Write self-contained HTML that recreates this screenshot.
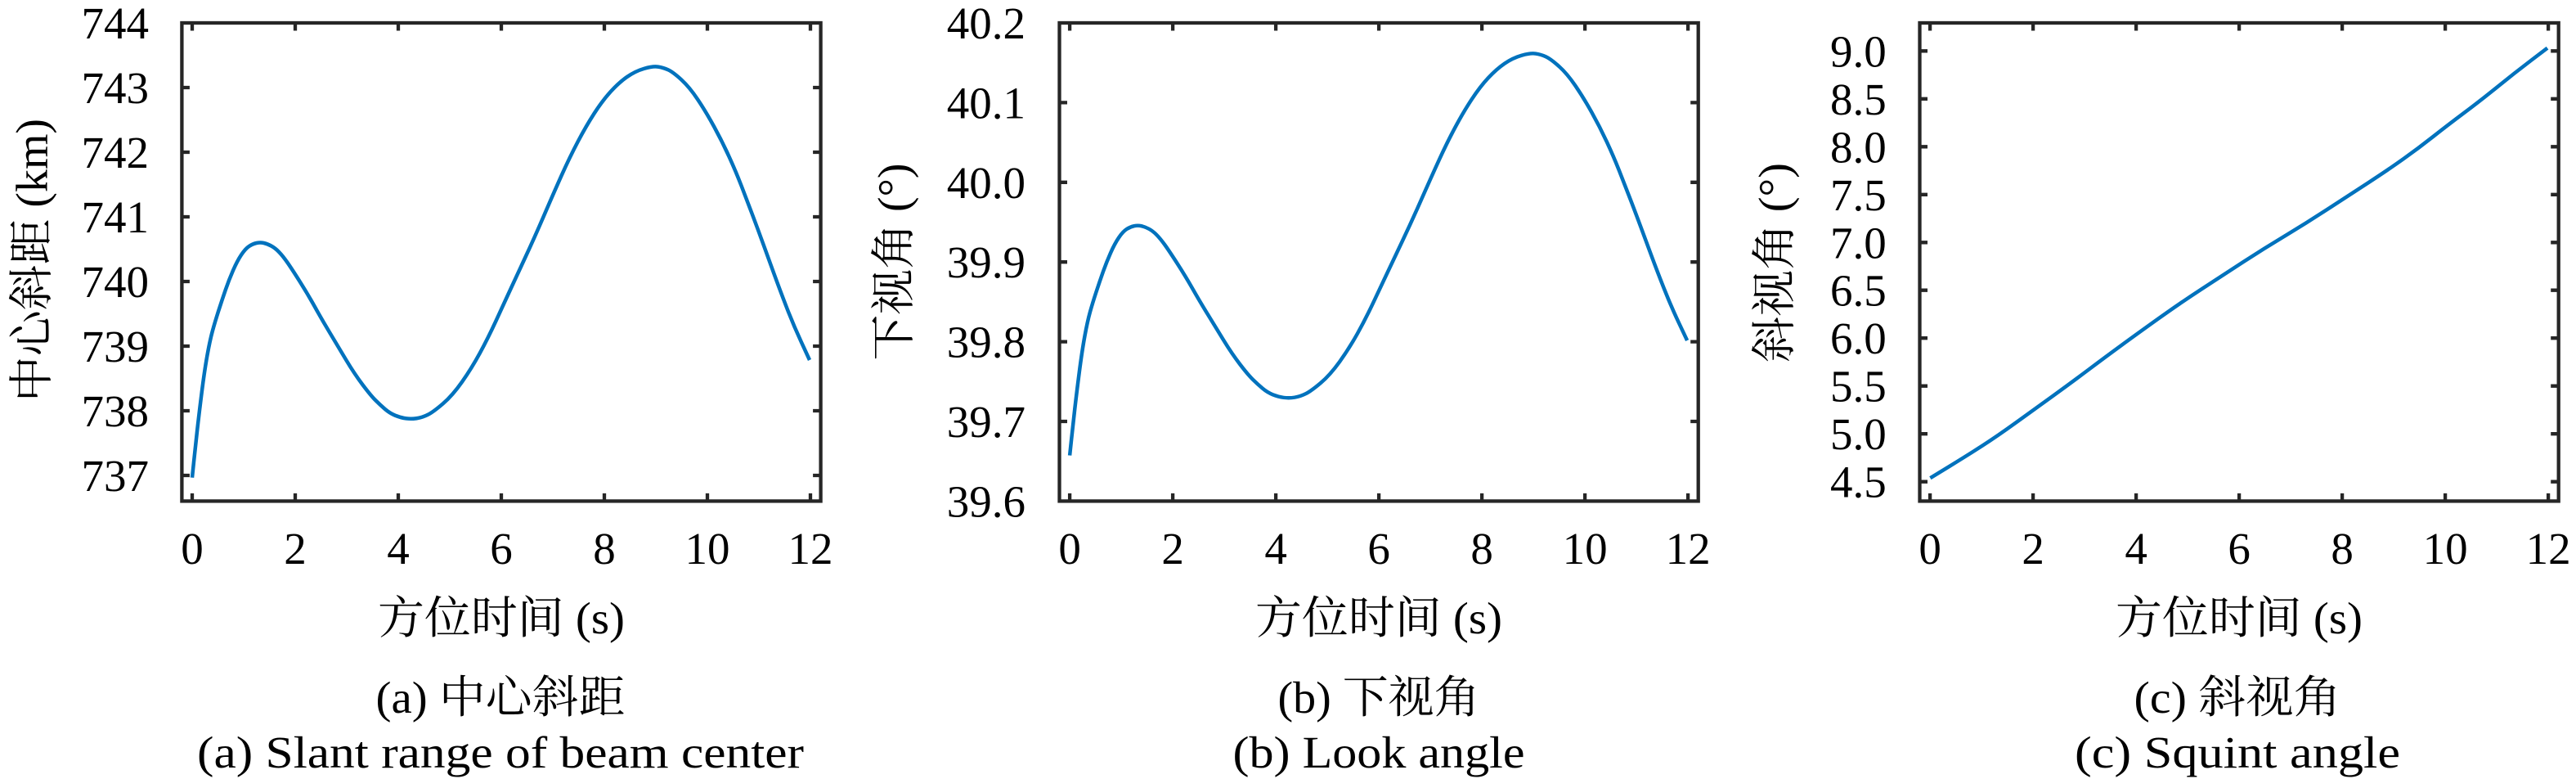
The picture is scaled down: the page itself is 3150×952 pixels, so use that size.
<!DOCTYPE html>
<html>
<head>
<meta charset="utf-8">
<style>
  html, body { margin: 0; padding: 0; background: #ffffff; }
  svg { display: block; }
  text { font-family: "Liberation Serif", "Noto Serif CJK SC", serif; font-size: 55px; fill: #000; }
</style>
</head>
<body>
<svg width="3150" height="952" viewBox="0 0 3150 952" xmlns="http://www.w3.org/2000/svg">
  <defs>
    <path id="curveA" d="M235,583.7 L237,564.35 Q239,545 241.15,525.85 Q243.3,506.7 246.65,480 Q250,453.3 253.35,434.65 Q256.7,416 259.85,404.5 Q263,393 267.35,379.5 Q271.7,366 275.85,354 Q280,342 285,330.5 Q290,319 295,311.5 Q300,304 304.5,301 Q309,298 313.65,297 Q318.3,296 322.65,297 Q327,298 331.85,300.65 Q336.7,303.3 341.35,308.15 Q346,313 351.35,320.65 Q356.7,328.3 366.7,344.15 Q376.7,360 385,375 Q393.3,390 403.3,406.65 Q413.3,423.3 423.3,440 Q433.3,456.7 443.3,470 Q453.3,483.3 459.15,489.15 Q465,495 470.85,500 Q476.7,505 483.35,507.75 Q490,510.5 496.65,511.4 Q503.3,512.3 510.15,511.15 Q517,510 523.5,506.65 Q530,503.3 541.65,493.3 Q553.3,483.3 565,466.65 Q576.7,450 586.7,431.65 Q596.7,413.3 606.7,391.65 Q616.7,370 623.35,355.5 Q630,341 641.65,316 Q653.3,291 665,263.85 Q676.7,236.7 686.7,214.35 Q696.7,192 706.7,173 Q716.7,154 726.7,138.5 Q736.7,123 746.7,112 Q756.7,101 766.7,94 Q776.7,87 787.5,83.85 Q798.3,80.7 804.65,81.6 Q811,82.5 817.15,85.4 Q823.3,88.3 833.3,97.5 Q843.3,106.7 853.3,121.7 Q863.3,136.7 873.3,155 Q883.3,173.3 891.65,191.65 Q900,210 906.65,227.25 Q913.3,244.5 920,262.25 Q926.7,280 933.35,298.35 Q940,316.7 946.65,335 Q953.3,353.3 961.65,375 Q970,396.7 980,418.35 L990,440"/>
  </defs>
  <rect x="0" y="0" width="3150" height="952" fill="#ffffff"/>

  <!-- ================= Panel (a) ================= -->
  <use href="#curveA" fill="none" stroke="#0072BD" stroke-width="4.5" stroke-linejoin="round"/>
  <rect x="222.4" y="28" width="781.2" height="584.4" fill="none" stroke="#262626" stroke-width="4.3"/>
  <path fill="none" stroke="#262626" stroke-width="4.3" d="
    M222.4,107h9.5 M222.4,186h9.5 M222.4,265h9.5 M222.4,344h9.5 M222.4,423h9.5 M222.4,502h9.5 M222.4,581h9.5
    M1003.6,107h-9.5 M1003.6,186h-9.5 M1003.6,265h-9.5 M1003.6,344h-9.5 M1003.6,423h-9.5 M1003.6,502h-9.5 M1003.6,581h-9.5
    M235,612.4v-9.5 M361,612.4v-9.5 M487,612.4v-9.5 M613,612.4v-9.5 M739,612.4v-9.5 M865,612.4v-9.5 M991,612.4v-9.5
    M235,28v9.5 M361,28v9.5 M487,28v9.5 M613,28v9.5 M739,28v9.5 M865,28v9.5 M991,28v9.5"/>
  <g text-anchor="end">
    <text x="182" y="47">744</text>
    <text x="182" y="126">743</text>
    <text x="182" y="205">742</text>
    <text x="182" y="284">741</text>
    <text x="182" y="363">740</text>
    <text x="182" y="442">739</text>
    <text x="182" y="521">738</text>
    <text x="182" y="600">737</text>
  </g>
  <g text-anchor="middle">
    <text x="235" y="689">0</text>
    <text x="361" y="689">2</text>
    <text x="487" y="689">4</text>
    <text x="613" y="689">6</text>
    <text x="739" y="689">8</text>
    <text x="865" y="689">10</text>
    <text x="991" y="689">12</text>
    <text x="613" y="774" textLength="302" lengthAdjust="spacingAndGlyphs">方位时间 (s)</text>
    <text x="612" y="871" textLength="305" lengthAdjust="spacingAndGlyphs">(a) 中心斜距</text>
    <text x="612" y="938" textLength="742" lengthAdjust="spacingAndGlyphs">(a) Slant range of beam center</text>
    <text transform="translate(57.5,318) rotate(-90)" textLength="346" lengthAdjust="spacingAndGlyphs">中心斜距 (km)</text>
  </g>

  <!-- ================= Panel (b) ================= -->
  <g transform="translate(1073.1,-14.28) scale(1,0.978)">
    <use href="#curveA" fill="none" stroke="#0072BD" stroke-width="4.5" stroke-linejoin="round" vector-effect="non-scaling-stroke"/>
  </g>
  <rect x="1295.5" y="28" width="781.2" height="584.4" fill="none" stroke="#262626" stroke-width="4.3"/>
  <path fill="none" stroke="#262626" stroke-width="4.3" d="
    M1295.5,125.4h9.5 M1295.5,222.8h9.5 M1295.5,320.2h9.5 M1295.5,417.6h9.5 M1295.5,515h9.5
    M2076.7,125.4h-9.5 M2076.7,222.8h-9.5 M2076.7,320.2h-9.5 M2076.7,417.6h-9.5 M2076.7,515h-9.5
    M1308.1,612.4v-9.5 M1434.1,612.4v-9.5 M1560.1,612.4v-9.5 M1686.1,612.4v-9.5 M1812.1,612.4v-9.5 M1938.1,612.4v-9.5 M2064.1,612.4v-9.5
    M1308.1,28v9.5 M1434.1,28v9.5 M1560.1,28v9.5 M1686.1,28v9.5 M1812.1,28v9.5 M1938.1,28v9.5 M2064.1,28v9.5"/>
  <g text-anchor="end">
    <text x="1254" y="47">40.2</text>
    <text x="1254" y="144.4">40.1</text>
    <text x="1254" y="241.8">40.0</text>
    <text x="1254" y="339.2">39.9</text>
    <text x="1254" y="436.6">39.8</text>
    <text x="1254" y="534">39.7</text>
    <text x="1254" y="631.4">39.6</text>
  </g>
  <g text-anchor="middle">
    <text x="1308.1" y="689">0</text>
    <text x="1434.1" y="689">2</text>
    <text x="1560.1" y="689">4</text>
    <text x="1686.1" y="689">6</text>
    <text x="1812.1" y="689">8</text>
    <text x="1938.1" y="689">10</text>
    <text x="2064.1" y="689">12</text>
    <text x="1686" y="774" textLength="302" lengthAdjust="spacingAndGlyphs">方位时间 (s)</text>
    <text x="1686" y="871" textLength="247" lengthAdjust="spacingAndGlyphs">(b) 下视角</text>
    <text x="1686" y="938" textLength="357" lengthAdjust="spacingAndGlyphs">(b) Look angle</text>
    <text transform="translate(1111.5,320) rotate(-90)" textLength="241" lengthAdjust="spacingAndGlyphs">下视角 (°)</text>
  </g>

  <!-- ================= Panel (c) ================= -->
  <path fill="none" stroke="#0072BD" stroke-width="4.5" stroke-linejoin="round"
    d="M2360.4,584.2 L2383.35,570.15 Q2406.3,556.1 2424.15,544.65 Q2442,533.2 2465,516.6 Q2488,500 2510.95,483.4 Q2533.9,466.8 2554.3,451.5 Q2574.7,436.2 2593.85,422.2 Q2613,408.2 2639.75,389.1 Q2666.5,370 2692.05,353.35 Q2717.6,336.7 2743.1,320.15 Q2768.6,303.6 2794.1,288.3 Q2819.6,273 2845.1,256.4 Q2870.6,239.8 2896.1,223.2 Q2921.6,206.6 2939.45,193.85 Q2957.3,181.1 2975.15,167.05 Q2993,153 3013.45,137.7 Q3033.9,122.4 3054.3,105.85 Q3074.7,89.3 3094.85,74 L3115,58.7"/>
  <rect x="2347.5" y="28" width="781.2" height="584.4" fill="none" stroke="#262626" stroke-width="4.3"/>
  <path fill="none" stroke="#262626" stroke-width="4.3" d="
    M2347.5,62.3h9.5 M2347.5,120.8h9.5 M2347.5,179.3h9.5 M2347.5,237.8h9.5 M2347.5,296.3h9.5 M2347.5,354.7h9.5 M2347.5,413.2h9.5 M2347.5,471.7h9.5 M2347.5,530.2h9.5 M2347.5,588.7h9.5
    M3128.7,62.3h-9.5 M3128.7,120.8h-9.5 M3128.7,179.3h-9.5 M3128.7,237.8h-9.5 M3128.7,296.3h-9.5 M3128.7,354.7h-9.5 M3128.7,413.2h-9.5 M3128.7,471.7h-9.5 M3128.7,530.2h-9.5 M3128.7,588.7h-9.5
    M2360.1,612.4v-9.5 M2486.1,612.4v-9.5 M2612.1,612.4v-9.5 M2738.1,612.4v-9.5 M2864.1,612.4v-9.5 M2990.1,612.4v-9.5 M3116.1,612.4v-9.5
    M2360.1,28v9.5 M2486.1,28v9.5 M2612.1,28v9.5 M2738.1,28v9.5 M2864.1,28v9.5 M2990.1,28v9.5 M3116.1,28v9.5"/>
  <g text-anchor="end">
    <text x="2306.7" y="81.3">9.0</text>
    <text x="2306.7" y="139.8">8.5</text>
    <text x="2306.7" y="198.3">8.0</text>
    <text x="2306.7" y="256.8">7.5</text>
    <text x="2306.7" y="315.3">7.0</text>
    <text x="2306.7" y="373.7">6.5</text>
    <text x="2306.7" y="432.2">6.0</text>
    <text x="2306.7" y="490.7">5.5</text>
    <text x="2306.7" y="549.2">5.0</text>
    <text x="2306.7" y="607.7">4.5</text>
  </g>
  <g text-anchor="middle">
    <text x="2360.1" y="689">0</text>
    <text x="2486.1" y="689">2</text>
    <text x="2612.1" y="689">4</text>
    <text x="2738.1" y="689">6</text>
    <text x="2864.1" y="689">8</text>
    <text x="2990.1" y="689">10</text>
    <text x="3116.1" y="689">12</text>
    <text x="2738" y="774" textLength="302" lengthAdjust="spacingAndGlyphs">方位时间 (s)</text>
    <text x="2736" y="871" textLength="253" lengthAdjust="spacingAndGlyphs">(c) 斜视角</text>
    <text x="2736" y="938" textLength="398" lengthAdjust="spacingAndGlyphs">(c) Squint angle</text>
    <text transform="translate(2188.5,321) rotate(-90)" textLength="244" lengthAdjust="spacingAndGlyphs">斜视角 (°)</text>
  </g>
</svg>
</body>
</html>
